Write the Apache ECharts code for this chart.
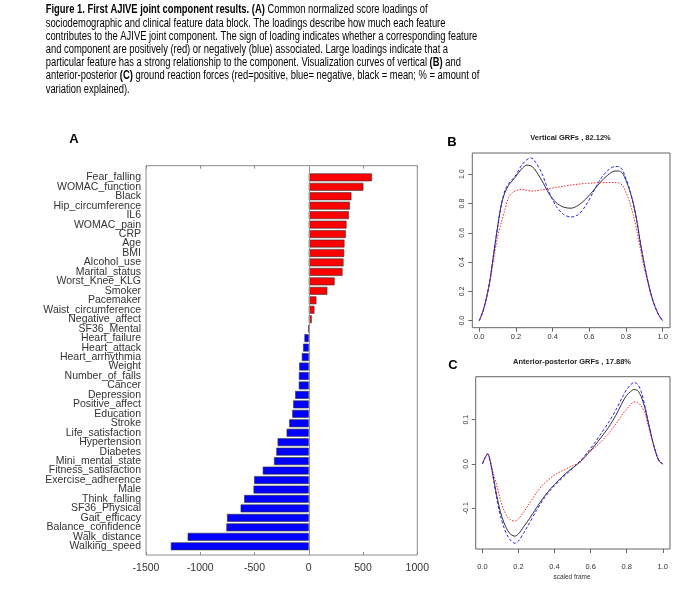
<!DOCTYPE html>
<html><head><meta charset="utf-8">
<script src="https://cdn.jsdelivr.net/npm/echarts@6/dist/echarts.min.js"></script>
<style>html,body{margin:0;padding:0;background:#fff}#c{width:697px;height:595px}</style>
</head><body><div id="c"></div>
<script>
// ---------- Panel A data ----------
const features = ['Fear_falling','WOMAC_function','Black','Hip_circumference','IL6','WOMAC_pain','CRP','Age','BMI','Alcohol_use','Marital_status','Worst_Knee_KLG','Smoker','Pacemaker','Waist_circumference','Negative_affect','SF36_Mental','Heart_failure','Heart_attack','Heart_arrhythmia','Weight','Number_of_falls','Cancer','Depression','Positive_affect','Education','Stroke','Life_satisfaction','Hypertension','Diabetes','Mini_mental_state','Fitness_satisfaction','Exercise_adherence','Male','Think_falling','SF36_Physical','Gait_efficacy','Balance_confidence','Walk_distance','Walking_speed'];
const loadings = [582,503,393,378,369,348,341,329,326,320,311,238,171,70,52,27,-3,-40,-52,-64,-88,-91,-92,-125,-143,-152,-180,-204,-287,-299,-320,-424,-503,-509,-595,-628,-753,-759,-1116,-1271];
const loadingRange = [-1500, 1000];
const loadingStep = 500;

// ---------- Panel B data (vertical GRFs) ----------
const tB = [0,0.02,0.04,0.06,0.08,0.10,0.12,0.14,0.16,0.18,0.20,0.23,0.26,0.28,0.30,0.34,0.38,0.42,0.46,0.50,0.54,0.58,0.62,0.66,0.70,0.74,0.76,0.78,0.80,0.82,0.84,0.86,0.88,0.90,0.92,0.94,0.96,0.98,1.0];
const vMeanB = [0,0.065,0.16,0.29,0.47,0.64,0.79,0.875,0.925,0.955,0.985,1.035,1.062,1.058,1.038,0.96,0.868,0.805,0.775,0.768,0.788,0.83,0.885,0.945,0.993,1.022,1.022,1.008,0.958,0.89,0.80,0.675,0.52,0.385,0.265,0.165,0.09,0.035,0];
const vPosB  = [0,0.06,0.15,0.28,0.43,0.575,0.67,0.76,0.84,0.875,0.888,0.897,0.89,0.886,0.886,0.893,0.902,0.91,0.918,0.926,0.932,0.937,0.94,0.942,0.943,0.943,0.94,0.925,0.875,0.81,0.72,0.61,0.48,0.355,0.255,0.16,0.09,0.035,0];
const vNegB  = [0,0.065,0.16,0.29,0.47,0.64,0.79,0.89,0.935,0.965,0.995,1.06,1.10,1.112,1.095,1.01,0.88,0.78,0.725,0.708,0.725,0.785,0.875,0.965,1.025,1.053,1.052,1.03,0.97,0.895,0.80,0.675,0.52,0.385,0.265,0.165,0.09,0.035,0];
const ticksBx = [0,0.2,0.4,0.6,0.8,1.0];
const ticksBy = [0,0.2,0.4,0.6,0.8,1.0];

// ---------- Panel C data (anterior-posterior GRFs) ----------
const tC = [0,0.015,0.03,0.045,0.06,0.08,0.10,0.12,0.14,0.16,0.18,0.20,0.23,0.26,0.30,0.34,0.38,0.42,0.46,0.50,0.54,0.58,0.62,0.66,0.70,0.74,0.78,0.80,0.82,0.84,0.86,0.88,0.90,0.92,0.94,0.96,0.98,1.0];
const apMeanC = [0,0.014,0.023,0.003,-0.028,-0.072,-0.108,-0.133,-0.15,-0.16,-0.163,-0.158,-0.141,-0.124,-0.099,-0.075,-0.055,-0.038,-0.022,-0.009,0.004,0.021,0.040,0.061,0.083,0.11,0.142,0.155,0.163,0.168,0.166,0.152,0.128,0.093,0.058,0.027,0.006,0];
const apPosC  = [0,0.014,0.023,0.006,-0.02,-0.048,-0.081,-0.105,-0.12,-0.127,-0.129,-0.124,-0.108,-0.09,-0.065,-0.045,-0.031,-0.02,-0.012,-0.004,0.003,0.022,0.036,0.051,0.069,0.09,0.114,0.124,0.133,0.14,0.139,0.131,0.116,0.085,0.055,0.028,0.007,0];
const apNegC  = [0,0.014,0.023,0.002,-0.031,-0.079,-0.117,-0.144,-0.163,-0.174,-0.179,-0.174,-0.155,-0.134,-0.105,-0.079,-0.058,-0.041,-0.025,-0.01,0.006,0.025,0.046,0.07,0.094,0.122,0.154,0.168,0.178,0.184,0.18,0.164,0.132,0.094,0.058,0.028,0.007,0];
const ticksCx = [0,0.2,0.4,0.6,0.8,1.0];
const ticksCy = [-0.1,0,0.1];

// ---------- Texts ----------
const captionLines = [
  [['b','Figure 1. First AJIVE joint component results. (A)'],['n',' Common normalized score loadings of']],
  [['n','sociodemographic and clinical feature data block. The loadings describe how much each feature']],
  [['n','contributes to the AJIVE joint component. The sign of loading indicates whether a corresponding feature']],
  [['n','and component are positively (red) or negatively (blue) associated. Large loadings indicate that a']],
  [['n','particular feature has a strong relationship to the component. Visualization curves of vertical '],['b','(B)'],['n',' and']],
  [['n','anterior-posterior '],['b','(C)'],['n',' ground reaction forces (red=positive, blue= negative, black = mean; % = amount of']],
  [['n','variation explained).']]
];
const titleB = 'Vertical GRFs , 82.12%';
const titleC = 'Anterior-posterior GRFs , 17.88%';
const xNameC = 'scaled frame';

// ---------- helpers ----------
const FONT = '"Liberation Sans", Arial, sans-serif';
const pairs = (xs, ys) => xs.map((x, i) => [x, ys[i]]);
const ctx = document.createElement('canvas').getContext('2d');
ctx.font = '12.5px "Liberation Sans"';
const capScale = 431.6 / ctx.measureText(captionLines[2][0][1]).width;

const capGraphics = captionLines.map((segs, i) => ({
  type: 'text', x: 45.7, y: 10 + 13.2 * i, scaleX: capScale,
  style: {
    text: segs.map(s => '{' + s[0] + '|' + s[1] + '}').join(''),
    rich: {
      b: {fontWeight: 'bold', fontSize: 12.5, fontFamily: FONT, fill: '#000'},
      n: {fontWeight: 'normal', fontSize: 12.5, fontFamily: FONT, fill: '#000'}
    },
    fontSize: 12.5, fontFamily: FONT, fill: '#000', verticalAlign: 'middle'
  }
}));

const letter = (t, x, y) => ({type: 'text', x, y, style: {text: t, fontSize: 13, fontWeight: 'bold', fontFamily: FONT, fill: '#000', align: 'center', verticalAlign: 'middle'}});
const smallTitle = (t, x, y) => ({type: 'text', x, y, style: {text: t, fontSize: 7.5, fontWeight: 'bold', fontFamily: FONT, fill: '#222', align: 'center', verticalAlign: 'middle'}});

const gray = '#8c8c8c';
const fmt1 = v => Number(v).toFixed(1);
const noLine = {show: false, onZero: false};

const chart = echarts.init(document.getElementById('c'), null, {renderer: 'canvas'});
chart.setOption({
  animation: false,
  backgroundColor: '#fff',
  graphic: capGraphics.concat([
    letter('A', 74, 139), letter('B', 452, 142), letter('C', 453, 365),
    smallTitle(titleB, 570.5, 138.3), smallTitle(titleC, 572, 362.3),
    {type: 'text', x: 572, y: 577, style: {text: xNameC, fontSize: 6.5, fontFamily: FONT, fill: '#333', align: 'center', verticalAlign: 'middle'}}
  ]),
  grid: [
    {left: 146, top: 165.7, width: 271.3, height: 389.3, show: true, borderColor: gray, borderWidth: 1, containLabel: false},
    {left: 146, top: 172.6, width: 271.3, height: 378.4, containLabel: false},
    {left: 472.3, top: 153, width: 197.7, height: 174.7, show: true, borderColor: '#666', borderWidth: 1, containLabel: false},
    {left: 475.7, top: 376.7, width: 194.3, height: 172.3, show: true, borderColor: '#666', borderWidth: 1, containLabel: false}
  ],
  xAxis: [
    {gridIndex: 0, type: 'value', position: 'bottom', min: loadingRange[0], max: loadingRange[1], interval: loadingStep,
      axisLine: noLine, splitLine: {show: false},
      axisTick: {inside: true, length: 3, lineStyle: {color: gray}},
      axisLabel: {margin: 8, fontSize: 10.5, fontFamily: FONT, color: '#333', formatter: v => String(v)}},
    {gridIndex: 0, type: 'value', position: 'top', min: loadingRange[0], max: loadingRange[1], interval: loadingStep,
      axisLine: noLine, splitLine: {show: false},
      axisTick: {inside: true, length: 3, lineStyle: {color: gray}},
      axisLabel: {show: false}},
    {gridIndex: 1, type: 'value', min: loadingRange[0], max: loadingRange[1], show: false, axisLine: noLine, splitLine: {show: false}},
    {gridIndex: 2, type: 'value', min: -0.038, max: 1.04, splitLine: {show: false}, axisLine: noLine,
      axisTick: {inside: false, length: 4, customValues: ticksBx, lineStyle: {color: '#666'}},
      axisLabel: {customValues: ticksBx, formatter: fmt1, margin: 5, fontSize: 7.5, fontFamily: FONT, color: '#333'}},
    {gridIndex: 3, type: 'value', min: -0.037, max: 1.04, splitLine: {show: false}, axisLine: noLine,
      axisTick: {inside: false, length: 4, customValues: ticksCx, lineStyle: {color: '#666'}},
      axisLabel: {customValues: ticksCx, formatter: fmt1, margin: 13.5, fontSize: 7.5, fontFamily: FONT, color: '#333'}}
  ],
  yAxis: [
    {gridIndex: 0, type: 'value', min: 0, max: 1, show: false, axisLine: noLine, splitLine: {show: false}},
    {gridIndex: 1, type: 'category', data: features, inverse: true, position: 'left',
      axisLine: noLine,
      axisTick: {inside: true, alignWithLabel: true, length: 3, lineStyle: {color: gray}},
      axisLabel: {interval: 0, margin: 5, fontSize: 10.5, fontFamily: FONT, color: '#333'}},
    {gridIndex: 1, type: 'category', data: features, inverse: true, position: 'right',
      axisLine: noLine,
      axisTick: {inside: true, alignWithLabel: true, length: 3, lineStyle: {color: gray}},
      axisLabel: {show: false}},
    {gridIndex: 2, type: 'value', min: -0.048, max: 1.145, splitLine: {show: false}, axisLine: noLine,
      axisTick: {inside: false, length: 4, customValues: ticksBy, lineStyle: {color: '#666'}},
      axisLabel: {customValues: ticksBy, formatter: fmt1, rotate: 90, margin: 7, fontSize: 7, fontFamily: FONT, color: '#333'}},
    {gridIndex: 3, type: 'value', min: -0.192, max: 0.197, splitLine: {show: false}, axisLine: noLine,
      axisTick: {inside: false, length: 4, customValues: ticksCy, lineStyle: {color: '#666'}},
      axisLabel: {customValues: ticksCy, formatter: fmt1, rotate: 90, margin: 6, fontSize: 7, fontFamily: FONT, color: '#333'}}
  ],
  series: [
    {type: 'scatter', xAxisIndex: 0, yAxisIndex: 0, data: [[0, 0.5]], symbolSize: 0, silent: true,
      markLine: {silent: true, symbol: 'none', label: {show: false}, lineStyle: {color: '#999', width: 1, type: 'solid'}, data: [{xAxis: 0}]}},
    {type: 'bar', xAxisIndex: 2, yAxisIndex: 1, data: loadings, barCategoryGap: '17%',
      itemStyle: {color: p => p.value >= 0 ? '#ff0000' : '#0000ff', borderColor: '#333', borderWidth: 0.6}},
    {type: 'line', xAxisIndex: 3, yAxisIndex: 3, data: pairs(tB, vMeanB), showSymbol: false, smooth: 0.3, lineStyle: {color: '#333', width: 1}},
    {type: 'line', xAxisIndex: 3, yAxisIndex: 3, data: pairs(tB, vPosB), showSymbol: false, smooth: 0.3, lineStyle: {color: '#ff2020', width: 1, type: [1.5, 1.5]}},
    {type: 'line', xAxisIndex: 3, yAxisIndex: 3, data: pairs(tB, vNegB), showSymbol: false, smooth: 0.3, lineStyle: {color: '#2020ff', width: 1, type: [3, 2]}},
    {type: 'line', xAxisIndex: 4, yAxisIndex: 4, data: pairs(tC, apMeanC), showSymbol: false, smooth: 0.3, lineStyle: {color: '#333', width: 1}},
    {type: 'line', xAxisIndex: 4, yAxisIndex: 4, data: pairs(tC, apPosC), showSymbol: false, smooth: 0.3, lineStyle: {color: '#ff2020', width: 1, type: [1.5, 1.5]}},
    {type: 'line', xAxisIndex: 4, yAxisIndex: 4, data: pairs(tC, apNegC), showSymbol: false, smooth: 0.3, lineStyle: {color: '#2020ff', width: 1, type: [3, 2]}}
  ]
});
</script>
</body></html>
